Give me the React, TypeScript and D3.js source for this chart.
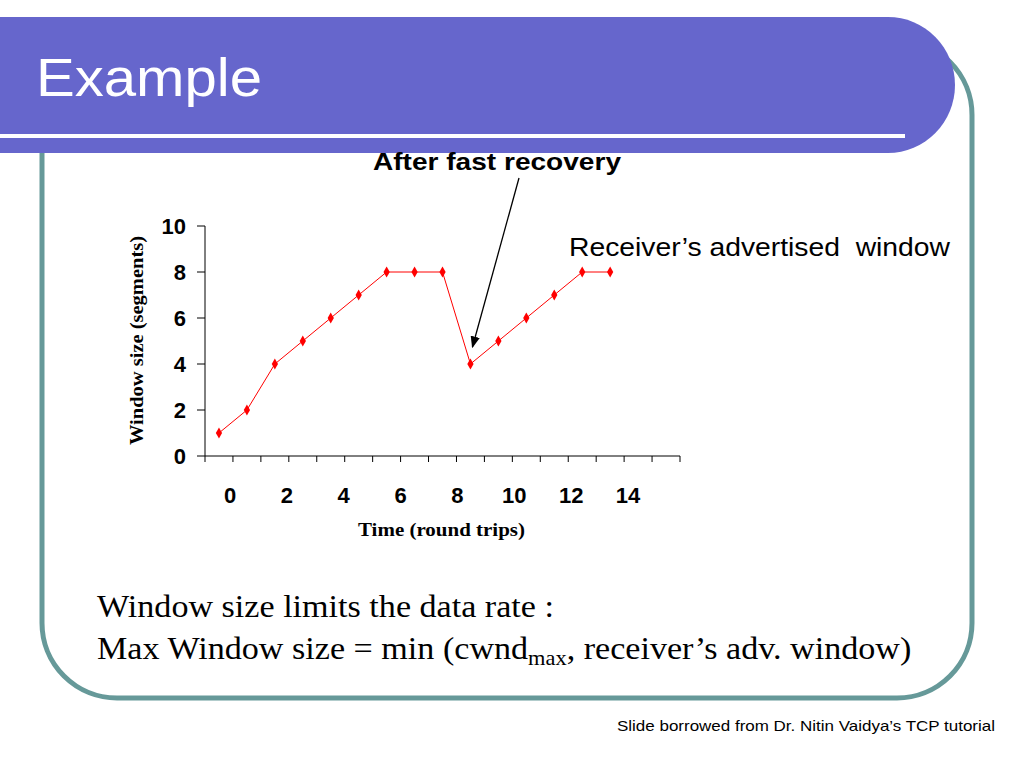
import * as d3 from 'd3'

const rounds = d3.range(15)
const windowSize = [1, 2, 4, 5, 6, 7, 8, 8, 8, 4, 5, 6, 7, 8, 8]
const slotCount = 17
const yTicks = [0, 2, 4, 6, 8, 10]
const xLabels = [0, 2, 4, 6, 8, 10, 12, 14]
const dropIndex = 9

const width = 1024
const height = 768
const plot = { left: 205, right: 680, top: 226, bottom: 456 }
const sans = 'Liberation Sans, Arial, sans-serif'
const serif = 'Liberation Serif, Times New Roman, serif'

export default function App() {
  const x = d3.scaleBand<number>(d3.range(slotCount), [plot.left, plot.right])
  const y = d3.scaleLinear([0, 10], [plot.bottom, plot.top])
  const xLabel = d3.scaleLinear([0, 14], [230, 628])
  const cx = (i: number) => (x(i) ?? 0) + x.bandwidth() / 2
  const line = d3.line<number>((d, i) => cx(i), (d) => y(d))
  const diamond = d3.symbol(d3.symbolDiamond, 34)()

  const tipX = cx(dropIndex) + 2
  const tipY = y(windowSize[dropIndex]) - 17

  return (
    <svg
      width={width}
      height={height}
      viewBox={`0 0 ${width} ${height}`}
      style={{ position: 'absolute', left: 0, top: 0, background: '#fff' }}
    >
      <defs>
        <marker id="arrow" viewBox="0 0 10 10" refX="9" refY="5" markerWidth="9" markerHeight="9" orient="auto-start-reverse">
          <path d="M0,1 L10,5 L0,9 z" fill="#000" />
        </marker>
      </defs>

      {/* slide frame */}
      <rect x={42} y={40} width={930} height={658} rx={75} fill="none" stroke="#669999" strokeWidth={5} />
      <path d="M0,17 H888 A67,68 0 0 1 888,153 H0 Z" fill="#6666cc" />
      <rect x={0} y={134} width={905} height={4} fill="#fff" />
      <text x={36} y={96} fill="#fff" fontFamily={sans} fontSize={54} textLength={226} lengthAdjust="spacingAndGlyphs">
        Example
      </text>

      {/* axes */}
      <g stroke="#000" strokeWidth={1} fill="none">
        <line x1={plot.left} x2={plot.left} y1={plot.top} y2={plot.bottom} />
        {yTicks.map((t) => (
          <line key={t} x1={plot.left - 8} x2={plot.left} y1={y(t)} y2={y(t)} />
        ))}
        <line x1={plot.left} x2={plot.right} y1={plot.bottom} y2={plot.bottom} />
        {d3.range(slotCount + 1).map((i) => {
          const tx = plot.left + i * x.step()
          return <line key={i} x1={tx} x2={tx} y1={plot.bottom} y2={plot.bottom + 6} />
        })}
      </g>
      <g fontFamily={sans} fontWeight="bold" fontSize={22} fill="#000">
        {yTicks.map((t) => (
          <text key={t} x={plot.left - 19} y={y(t)} dy="0.36em" textAnchor="end">
            {t}
          </text>
        ))}
        {xLabels.map((t) => (
          <text key={t} x={xLabel(t)} y={503} textAnchor="middle">
            {t}
          </text>
        ))}
      </g>
      <g fontFamily={serif} fontWeight="bold" fontSize={19} fill="#000">
        <text x={358} y={536} textLength={167} lengthAdjust="spacingAndGlyphs">
          Time (round trips)
        </text>
        <text
          transform={`translate(143,${(plot.top + plot.bottom) / 2 + 104}) rotate(-90)`}
          textLength={209}
          lengthAdjust="spacingAndGlyphs"
        >
          Window size (segments)
        </text>
      </g>

      {/* series */}
      <path d={line(windowSize) ?? undefined} fill="none" stroke="#ff0000" strokeWidth={1} />
      <g fill="#ff0000">
        {rounds.map((i) => (
          <path key={i} d={diamond ?? undefined} transform={`translate(${cx(i)},${y(windowSize[i])})`} />
        ))}
      </g>

      {/* annotations */}
      <line x1={519} y1={178} x2={tipX} y2={tipY} stroke="#000" strokeWidth={1.3} markerEnd="url(#arrow)" />
      <text x={373} y={170} fontFamily={sans} fontWeight="bold" fontSize={24} textLength={248} lengthAdjust="spacingAndGlyphs">
        After fast recovery
      </text>
      <text x={569} y={256} fontFamily={sans} fontSize={25} xmlSpace="preserve" textLength={381} lengthAdjust="spacingAndGlyphs">
        Receiver’s advertised  window
      </text>

      <g fontFamily={serif} fontSize={32} fill="#000">
        <text transform="translate(97,617) scale(1.066,1)">Window size limits the data rate :</text>
        <text transform="translate(97,659) scale(1.066,1)">
          Max Window size = min (cwnd
          <tspan fontSize={21} dy={6}>max</tspan>
          <tspan dy={-6}>, receiver’s adv. window)</tspan>
        </text>
      </g>
      <text x={617} y={731} fontFamily={sans} fontSize={15} textLength={378} lengthAdjust="spacingAndGlyphs">
        Slide borrowed from Dr. Nitin Vaidya’s TCP tutorial
      </text>
    </svg>
  )
}
